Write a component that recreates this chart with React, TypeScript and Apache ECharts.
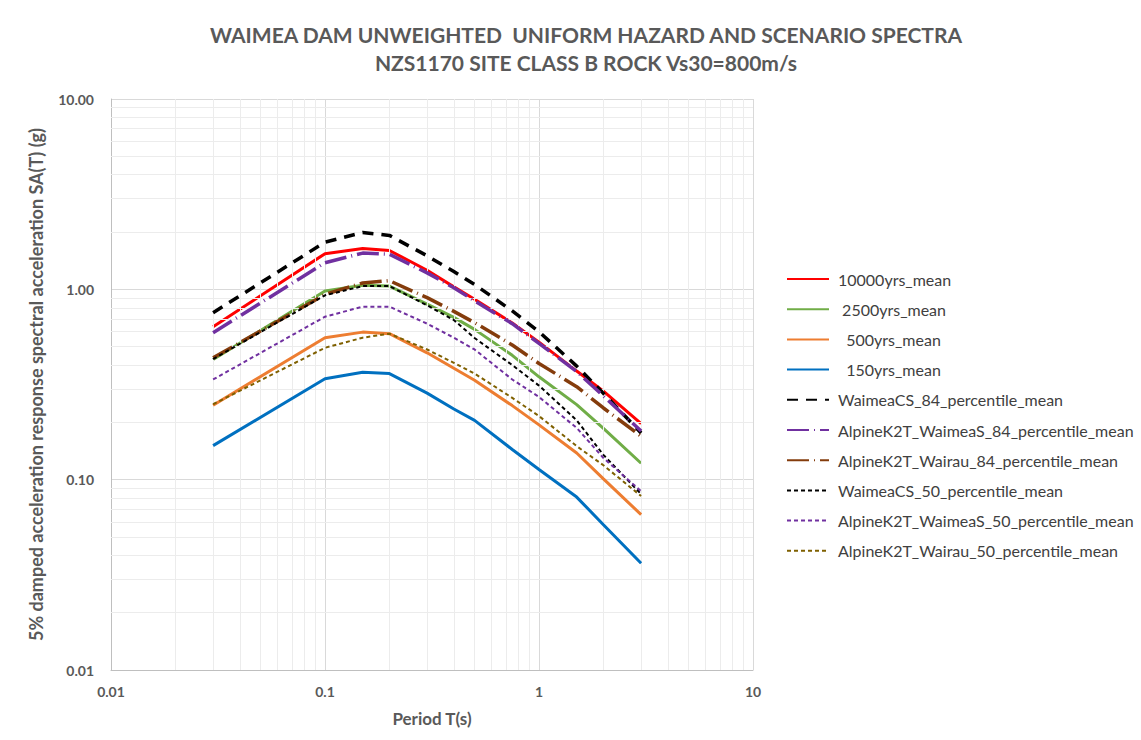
import React, { useEffect, useRef } from "react";
import * as echarts from "echarts";

const periods = [0.03, 0.1, 0.15, 0.2, 0.3, 0.4, 0.5, 0.75, 1, 1.5, 2, 3];

const uhs10000 = [0.636, 1.54, 1.64, 1.6, 1.26, 1.03, 0.886, 0.665, 0.528, 0.372, 0.292, 0.197];
const uhs2500 = [0.428, 0.98, 1.05, 1.04, 0.837, 0.712, 0.616, 0.45, 0.347, 0.248, 0.186, 0.122];
const uhs500 = [0.246, 0.557, 0.596, 0.585, 0.464, 0.385, 0.333, 0.245, 0.194, 0.138, 0.101, 0.0655];
const uhs150 = [0.151, 0.339, 0.367, 0.361, 0.285, 0.235, 0.205, 0.144, 0.113, 0.081, 0.058, 0.0364];
const waimeaCS84 = [0.754, 1.77, 1.99, 1.92, 1.5, 1.24, 1.06, 0.77, 0.599, 0.395, 0.284, 0.176];
const alpineWaimeaS84 = [0.592, 1.38, 1.55, 1.53, 1.22, 1.02, 0.87, 0.66, 0.52, 0.37, 0.275, 0.18];
const alpineWairau84 = [0.437, 0.94, 1.08, 1.11, 0.904, 0.766, 0.668, 0.51, 0.408, 0.308, 0.238, 0.169];
const waimeaCS50 = [0.43, 0.93, 1.04, 1.04, 0.824, 0.69, 0.555, 0.4, 0.312, 0.205, 0.135, 0.084];
const alpineWaimeaS50 = [0.336, 0.718, 0.811, 0.811, 0.66, 0.557, 0.483, 0.336, 0.272, 0.187, 0.13, 0.087];
const alpineWairau50 = [0.249, 0.493, 0.557, 0.585, 0.483, 0.411, 0.361, 0.269, 0.216, 0.15, 0.119, 0.082];

const seriesNames = [
  "10000yrs_mean",
  " 2500yrs_mean",
  "  500yrs_mean",
  "  150yrs_mean",
  "WaimeaCS_84_percentile_mean",
  "AlpineK2T_WaimeaS_84_percentile_mean",
  "AlpineK2T_Wairau_84_percentile_mean",
  "WaimeaCS_50_percentile_mean",
  "AlpineK2T_WaimeaS_50_percentile_mean",
  "AlpineK2T_Wairau_50_percentile_mean",
];

const minorX = [0.02, 0.03, 0.04, 0.05, 0.06, 0.07, 0.08, 0.09, 0.2, 0.3, 0.4, 0.5, 0.6, 0.7, 0.8, 0.9, 2, 3, 4, 5, 6, 7, 8, 9];
const minorY = [0.02, 0.03, 0.04, 0.05, 0.06, 0.07, 0.08, 0.09, 0.2, 0.3, 0.4, 0.5, 0.6, 0.7, 0.8, 0.9, 2, 3, 4, 5, 6, 7, 8, 9];

const FONT = "Lato";
const GREY = "#595959";

export default function App() {
  const ref = useRef<HTMLDivElement>(null);
  useEffect(() => {
    if (!ref.current) return;
    const chart = echarts.init(ref.current, null, { renderer: "svg" });
    const values = [
      uhs10000, uhs2500, uhs500, uhs150, waimeaCS84,
      alpineWaimeaS84, alpineWairau84, waimeaCS50, alpineWaimeaS50, alpineWairau50,
    ];
    const styles: any[] = [
      { color: "#ff0000", width: 3, type: "solid" },
      { color: "#70ad47", width: 3, type: "solid" },
      { color: "#ed7d31", width: 3, type: "solid" },
      { color: "#0070c0", width: 3, type: "solid" },
      { color: "#000000", width: 3.5, type: [11, 8] },
      { color: "#7030a0", width: 3.5, type: [22, 5, 1, 5] },
      { color: "#843c0c", width: 3.5, type: [22, 5, 1, 5] },
      { color: "#000000", width: 2, type: [4, 3] },
      { color: "#7030a0", width: 2, type: [4, 3] },
      { color: "#7f6000", width: 2, type: [4, 3] },
    ];
    const series: any[] = [
      {
        type: "line",
        name: "grid",
        data: [[0.01, 0.01]],
        symbol: "none",
        silent: true,
        z: 1,
        lineStyle: { width: 0 },
        markLine: {
          silent: true,
          symbol: ["none", "none"],
          label: { show: false },
          lineStyle: { color: "#ececec", width: 1, type: "solid" },
          data: [
            ...minorX.map((v) => ({ xAxis: v })),
            ...minorY.map((v) => ({ yAxis: v })),
          ],
        },
      },
    ];
    values.forEach((vals, i) => {
      series.push({
        type: "line",
        name: seriesNames[i],
        data: periods.map((p, j) => [p, vals[j]]),
        symbol: "none",
        showSymbol: false,
        color: styles[i].color,
        lineStyle: styles[i],
        z: 3 + i,
      });
    });
    chart.setOption({
      animation: false,
      backgroundColor: "#ffffff",
      textStyle: { fontFamily: FONT },
      title: [
        {
          text: "WAIMEA DAM UNWEIGHTED  UNIFORM HAZARD AND SCENARIO SPECTRA",
          left: 581,
          top: 19,
          textAlign: "center",
          textStyle: { fontFamily: FONT, fontSize: 21, fontWeight: "bold", color: GREY },
        },
        {
          text: "NZS1170 SITE CLASS B ROCK Vs30=800m/s",
          left: 581,
          top: 47,
          textAlign: "center",
          textStyle: { fontFamily: FONT, fontSize: 21, fontWeight: "bold", color: GREY },
        },
      ],
      legend: {
        orient: "vertical",
        left: 781,
        top: 266,
        data: seriesNames,
        itemWidth: 42,
        itemHeight: 14,
        itemGap: 14.2,
        itemStyle: { opacity: 0 },
        textStyle: { fontFamily: FONT, fontSize: 16, color: "#404040", padding: [0, 0, 0, 4] },
        selectedMode: false,
      },
      grid: { left: 111, right: 388, top: 99, bottom: 70 },
      xAxis: {
        type: "log",
        logBase: 10,
        min: 0.01,
        max: 10,
        splitNumber: 3,
        name: "Period T(s)",
        nameLocation: "middle",
        nameGap: 40,
        nameTextStyle: { fontFamily: FONT, fontSize: 17, fontWeight: "bold", color: GREY },
        axisLine: { show: true, lineStyle: { color: "#bfbfbf" } },
        axisTick: { show: false },
        axisLabel: {
          fontFamily: FONT,
          fontSize: 14,
          fontWeight: "bold",
          color: GREY,
          margin: 14,
          formatter: (v: number) => String(Number(v.toPrecision(3))),
        },
        splitLine: { show: true, lineStyle: { color: "#d9d9d9" } },
      },
      yAxis: {
        type: "log",
        logBase: 10,
        min: 0.01,
        max: 10,
        splitNumber: 3,
        name: "5% damped acceleration response spectral acceleration SA(T) (g)",
        nameLocation: "middle",
        nameRotate: 90,
        nameGap: 66,
        nameTextStyle: { fontFamily: FONT, fontSize: 18, fontWeight: "bold", color: GREY },
        axisLine: { show: true, lineStyle: { color: "#bfbfbf" } },
        axisTick: { show: false },
        axisLabel: {
          fontFamily: FONT,
          fontSize: 14,
          fontWeight: "bold",
          color: GREY,
          margin: 17,
          formatter: (v: number) => v.toFixed(2),
        },
        splitLine: { show: true, lineStyle: { color: "#d9d9d9" } },
      },
      series,
    });
    return () => chart.dispose();
  }, []);
  return (
    <div
      ref={ref}
      style={{ position: "absolute", left: 0, top: 0, width: 1141, height: 740 }}
    />
  );
}
